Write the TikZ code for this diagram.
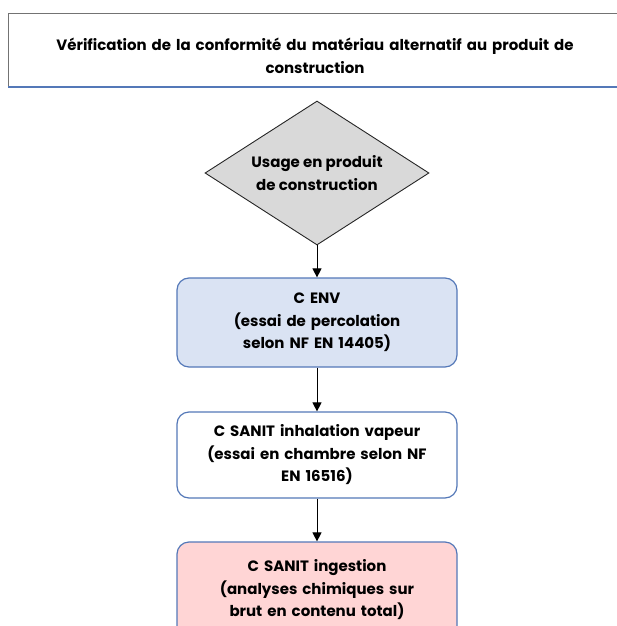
\documentclass[tikz,border=0pt]{standalone}
\usepackage{fontspec}
\setmainfont{Poppins}
\usetikzlibrary{shapes.geometric,arrows.meta}

\definecolor{boxline}{HTML}{5478B8}
\definecolor{envfill}{HTML}{DAE3F3}
\definecolor{ingfill}{HTML}{FFD5D5}
\definecolor{usagefill}{HTML}{D9D9D9}

\begin{document}
\begin{tikzpicture}[x=1pt, y=-1pt,
    every node/.style={font=\bfseries\fontsize{15}{22.5}\selectfont, align=center},
    usage/.style={diamond, draw=black!85, fill=usagefill, line width=0.9pt,
                  minimum width=224pt, minimum height=144pt, inner sep=0pt, aspect=1.55},
    critere/.style={rectangle, rounded corners=12pt, draw=boxline, line width=1.2pt,
                    minimum width=280pt, text width=265pt},
    suite/.style={-{Triangle[length=9pt, width=9pt]}, line width=1pt, black}]
    \useasboundingbox (0,0) rectangle (617,626);

    % bandeau du titre
    \fill[white] (8,13) rectangle (640,87);
    \draw[black!55, line width=0.7pt] (640,13) -- (8,13) -- (8,87);
    \draw[boxline, line width=1.6pt] (8,87) -- (640,87);
    \node (titre) at (315,56) [text width=580pt]
        {V\'erification de la conformit\'e du mat\'eriau alternatif au produit de\\construction};

    % logigramme
    \node[usage] (usage) at (317,173) {Usage en produit\\de construction};
    \node[critere, fill=envfill, minimum height=89pt] (env) at (317,322.5)
        {C ENV\\(essai de percolation\\selon NF EN 14405)};
    \node[critere, fill=white, minimum height=86pt] (inhal) at (317,455)
        {C SANIT inhalation vapeur\\(essai en chambre selon NF\\EN 16516)};
    \node[critere, fill=ingfill, minimum height=96pt] (ingest) at (317,590)
        {C SANIT ingestion\\(analyses chimiques sur\\brut en contenu total)};

    \draw[suite] (usage.south) -- (env.north);
    \draw[suite] (env.south) -- (inhal.north);
    \draw[suite] (inhal.south) -- (ingest.north);
\end{tikzpicture}
\end{document}
